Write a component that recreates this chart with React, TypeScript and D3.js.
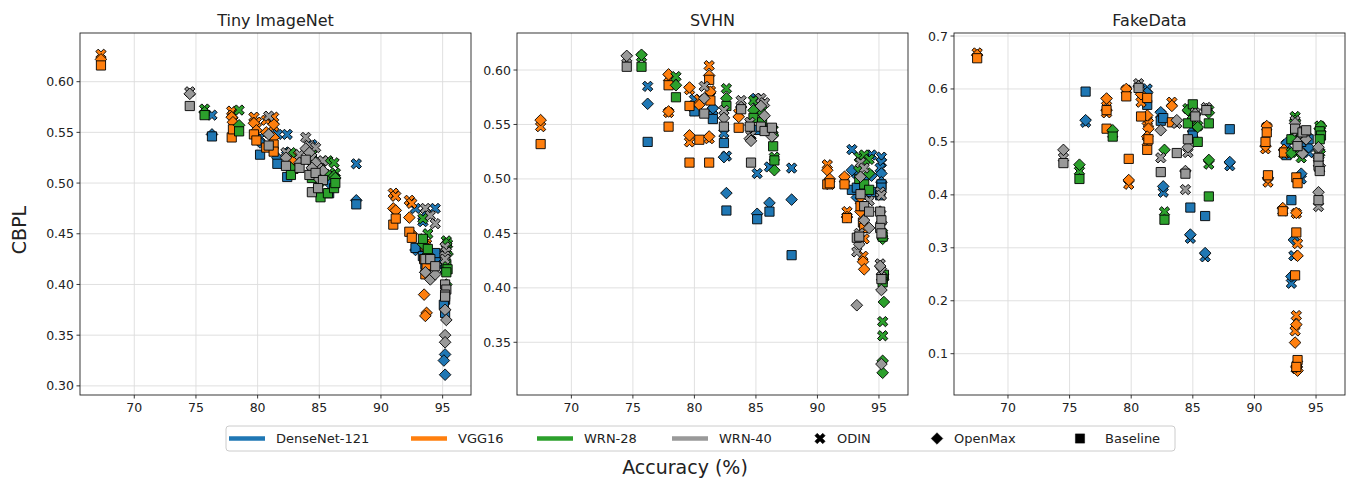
import * as d3 from 'd3'

// rows: [accuracy, ODIN, OpenMax, Baseline]
const models = ['DenseNet-121', 'VGG16', 'WRN-28', 'WRN-40']
const colors = ['#1f77b4', '#ff7f0e', '#2ca02c', '#999999']
const methods = ['ODIN', 'OpenMax', 'Baseline']
const xTicks = [70, 75, 80, 85, 90, 95]

const tinyDense = [
  [76.3, 0.567, 0.548, 0.546], [80.2, 0.545, 0.540, 0.528], [81.6, 0.548, 0.525, 0.519],
  [82.4, 0.548, 0.530, 0.506], [84.4, 0.538, 0.525, 0.512], [85.8, 0.505, 0.500, 0.490],
  [88.0, 0.519, 0.483, 0.479], [92.8, 0.475, 0.434, 0.436], [93.6, 0.470, 0.412, 0.420],
  [94.4, 0.475, 0.425, 0.431], [95.2, 0.430, 0.331, 0.385], [95.1, 0.420, 0.325, 0.380],
  [95.2, 0.415, 0.311, 0.372], [93.4, 0.462, 0.437, 0.428],
]
const tinyVgg = [
  [67.3, 0.627, 0.622, 0.616], [77.9, 0.571, 0.565, 0.545], [78.0, 0.567, 0.560, 0.553],
  [79.7, 0.565, 0.559, 0.548], [79.9, 0.560, 0.552, 0.542], [80.7, 0.562, 0.550, 0.535],
  [81.3, 0.565, 0.558, 0.538], [81.3, 0.556, 0.545, 0.531], [82.9, 0.528, 0.522, 0.514],
  [91.0, 0.490, 0.475, 0.459], [91.2, 0.487, 0.473, 0.465], [92.3, 0.483, 0.466, 0.452],
  [92.5, 0.480, 0.450, 0.446], [93.5, 0.445, 0.390, 0.425], [93.7, 0.440, 0.372, 0.418],
  [93.6, 0.438, 0.369, 0.410],
]
const tinyWrn28 = [
  [75.7, 0.573, 0.570, 0.567], [78.5, 0.572, 0.557, 0.551], [82.7, 0.530, 0.515, 0.508],
  [84.4, 0.528, 0.520, 0.505], [85.1, 0.513, 0.500, 0.486], [85.7, 0.522, 0.508, 0.490],
  [86.2, 0.520, 0.507, 0.495], [86.3, 0.510, 0.505, 0.500], [93.4, 0.465, 0.440, 0.445],
  [93.8, 0.450, 0.430, 0.435], [95.3, 0.443, 0.440, 0.420], [95.4, 0.440, 0.430, 0.415],
  [95.3, 0.435, 0.400, 0.412],
]
const tinyWrn40 = [
  [74.5, 0.590, 0.588, 0.576], [80.9, 0.566, 0.548, 0.537], [82.3, 0.530, 0.525, 0.517],
  [83.4, 0.528, 0.520, 0.515], [83.9, 0.545, 0.534, 0.523], [84.2, 0.537, 0.530, 0.508],
  [84.7, 0.535, 0.520, 0.510], [84.4, 0.525, 0.515, 0.491], [85.3, 0.522, 0.512, 0.503],
  [84.9, 0.515, 0.505, 0.495], [93.6, 0.475, 0.412, 0.425], [94.0, 0.468, 0.405, 0.425],
  [94.4, 0.460, 0.410, 0.418], [95.2, 0.437, 0.375, 0.400], [95.3, 0.432, 0.365, 0.395],
  [95.2, 0.428, 0.350, 0.390], [95.2, 0.425, 0.343, 0.388],
]

const svhnDense = [
  [76.2, 0.585, 0.569, 0.534], [80.0, 0.573, 0.563, 0.562], [81.5, 0.563, 0.565, 0.555],
  [82.4, 0.542, 0.520, 0.533], [82.6, 0.521, 0.487, 0.471], [85.0, 0.574, 0.572, 0.545],
  [85.1, 0.505, 0.468, 0.463], [86.1, 0.511, 0.478, 0.470], [87.9, 0.510, 0.481, 0.430],
  [92.8, 0.527, 0.508, 0.490], [93.2, 0.505, 0.483, 0.492], [93.8, 0.520, 0.500, 0.487],
  [94.4, 0.522, 0.503, 0.488], [95.2, 0.520, 0.505, 0.495], [95.2, 0.515, 0.497, 0.492],
  [95.1, 0.510, 0.490, 0.485],
]
const svhnVgg = [
  [67.5, 0.548, 0.554, 0.532], [77.9, 0.593, 0.596, 0.586], [77.9, 0.561, 0.562, 0.548],
  [79.6, 0.582, 0.584, 0.567], [79.6, 0.534, 0.540, 0.515], [80.4, 0.573, 0.568, 0.536],
  [81.2, 0.604, 0.595, 0.591], [81.3, 0.581, 0.580, 0.572], [81.2, 0.537, 0.539, 0.515],
  [83.6, 0.560, 0.557, 0.547], [90.8, 0.513, 0.508, 0.495], [91.0, 0.495, 0.500, 0.496],
  [92.2, 0.500, 0.502, 0.495], [92.4, 0.470, 0.465, 0.464], [93.5, 0.480, 0.470, 0.475],
  [93.7, 0.429, 0.424, 0.460], [93.8, 0.445, 0.417, 0.455],
]
const svhnWrn28 = [
  [75.7, 0.612, 0.614, 0.603], [78.5, 0.594, 0.586, 0.575], [82.6, 0.583, 0.574, 0.567],
  [84.8, 0.572, 0.563, 0.556], [85.5, 0.568, 0.560, 0.552], [86.4, 0.545, 0.540, 0.530],
  [86.5, 0.520, 0.508, 0.517], [93.4, 0.520, 0.510, 0.500], [93.8, 0.522, 0.515, 0.495],
  [94.2, 0.518, 0.505, 0.490], [95.3, 0.450, 0.445, 0.447], [95.4, 0.410, 0.387, 0.412],
  [95.3, 0.369, 0.333, 0.408], [95.3, 0.356, 0.322, 0.405],
]
const svhnWrn40 = [
  [74.5, 0.611, 0.613, 0.603], [80.8, 0.585, 0.574, 0.560], [82.4, 0.563, 0.556, 0.548],
  [83.8, 0.572, 0.566, 0.564], [84.5, 0.552, 0.537, 0.548], [84.6, 0.540, 0.535, 0.515],
  [85.4, 0.574, 0.567, 0.548], [85.7, 0.570, 0.558, 0.544], [86.3, 0.545, 0.539, 0.547],
  [93.5, 0.515, 0.502, 0.486], [93.8, 0.510, 0.462, 0.475], [94.2, 0.480, 0.455, 0.470],
  [93.2, 0.433, 0.384, 0.446], [93.4, 0.450, 0.440, 0.447], [95.1, 0.488, 0.470, 0.470],
  [95.2, 0.485, 0.460, 0.462], [95.1, 0.422, 0.420, 0.455], [95.2, 0.415, 0.398, 0.408],
  [95.2, 0.410, 0.330, 0.450],
]

const fakeDense = [
  [76.3, 0.537, 0.541, 0.595], [81.3, 0.600, 0.593, 0.570], [82.4, 0.552, 0.556, 0.540],
  [82.6, 0.405, 0.416, 0.545], [84.8, 0.318, 0.325, 0.376], [85.0, 0.505, 0.520, 0.512],
  [86.0, 0.283, 0.290, 0.360], [88.0, 0.455, 0.462, 0.524], [92.6, 0.495, 0.498, 0.475],
  [93.0, 0.233, 0.246, 0.390], [93.2, 0.285, 0.315, 0.505], [93.8, 0.430, 0.440, 0.500],
  [94.4, 0.480, 0.490, 0.505],
]
const fakeVgg = [
  [67.5, 0.668, 0.664, 0.658], [78.0, 0.578, 0.582, 0.560], [78.0, 0.555, 0.560, 0.525],
  [79.6, 0.598, 0.600, 0.586], [79.8, 0.420, 0.428, 0.468], [80.8, 0.575, 0.590, 0.548],
  [81.3, 0.540, 0.550, 0.583], [81.4, 0.535, 0.525, 0.505], [81.3, 0.500, 0.510, 0.485],
  [83.3, 0.575, 0.568, 0.537], [91.0, 0.528, 0.530, 0.518], [90.9, 0.487, 0.492, 0.500],
  [91.1, 0.424, 0.432, 0.437], [92.3, 0.370, 0.375, 0.369], [92.4, 0.478, 0.485, 0.480],
  [93.4, 0.365, 0.366, 0.433], [93.5, 0.308, 0.285, 0.422], [93.4, 0.172, 0.155, 0.329],
  [93.3, 0.143, 0.121, 0.248], [93.5, 0.080, 0.068, 0.088], [93.4, 0.072, 0.075, 0.075],
]
const fakeWrn28 = [
  [75.8, 0.445, 0.457, 0.430], [78.5, 0.515, 0.522, 0.510], [82.7, 0.368, 0.485, 0.353],
  [84.6, 0.563, 0.560, 0.535], [85.0, 0.555, 0.545, 0.571], [85.4, 0.530, 0.528, 0.500],
  [86.3, 0.458, 0.466, 0.397], [86.3, 0.560, 0.555, 0.535], [93.3, 0.548, 0.540, 0.520],
  [93.0, 0.480, 0.479, 0.505], [93.8, 0.470, 0.480, 0.510], [95.3, 0.530, 0.525, 0.520],
  [95.4, 0.525, 0.530, 0.512], [95.3, 0.480, 0.482, 0.505],
]
const fakeWrn40 = [
  [74.5, 0.470, 0.485, 0.460], [80.6, 0.610, 0.605, 0.602], [82.4, 0.470, 0.522, 0.443],
  [83.7, 0.535, 0.541, 0.479], [84.4, 0.410, 0.445, 0.440], [84.6, 0.480, 0.490, 0.505],
  [85.2, 0.555, 0.553, 0.548], [86.1, 0.565, 0.562, 0.560], [93.3, 0.540, 0.535, 0.525],
  [93.5, 0.520, 0.500, 0.492], [93.9, 0.515, 0.478, 0.518], [94.2, 0.510, 0.505, 0.522],
  [95.2, 0.480, 0.490, 0.470], [95.2, 0.460, 0.470, 0.455], [95.3, 0.450, 0.455, 0.445],
  [95.2, 0.378, 0.405, 0.390],
]

const panels = [
  { title: 'Tiny ImageNet', left: 80, xDomain: [65.6, 97.3], yDomain: [0.291, 0.648],
    yTicks: [0.30, 0.35, 0.40, 0.45, 0.50, 0.55, 0.60], fmt: '.2f',
    series: [tinyDense, tinyVgg, tinyWrn28, tinyWrn40] },
  { title: 'SVHN', left: 517, xDomain: [65.58, 97.36], yDomain: [0.3016, 0.634],
    yTicks: [0.35, 0.40, 0.45, 0.50, 0.55, 0.60], fmt: '.2f',
    series: [svhnDense, svhnVgg, svhnWrn28, svhnWrn40] },
  { title: 'FakeData', left: 954, xDomain: [65.62, 97.35], yDomain: [0.022, 0.7057],
    yTicks: [0.1, 0.2, 0.3, 0.4, 0.5, 0.6, 0.7], fmt: '.1f',
    series: [fakeDense, fakeVgg, fakeWrn28, fakeWrn40] },
]

const W = 391
const TOP = 33
const BOTTOM = 395
const FONT = 'DejaVu Sans, sans-serif'

// filled "X" marker, like matplotlib's 'X'
const a = 5.6
const t = 1.7
const xPath = `M${t},${a}L${t},${t}L${a},${t}L${a},${-t}L${t},${-t}L${t},${-a}L${-t},${-a}L${-t},${-t}L${-a},${-t}L${-a},${t}L${-t},${t}L${-t},${a}Z`
const dPath = 'M0,-5.8L5.8,0L0,5.8L-5.8,0Z'
const sPath = 'M-4.6,-4.6L4.6,-4.6L4.6,4.6L-4.6,4.6Z'

const Marker = ({ m, x, y, fill, stroke = '#000', sw = 0.9 }) => {
  if (m === 0) return <path d={xPath} transform={`translate(${x},${y}) rotate(45)`} fill={fill} stroke={stroke} strokeWidth={sw} />
  if (m === 1) return <path d={dPath} transform={`translate(${x},${y})`} fill={fill} stroke={stroke} strokeWidth={sw} />
  return <path d={sPath} transform={`translate(${x},${y})`} fill={fill} stroke={stroke} strokeWidth={sw} />
}

const Panel = ({ p }) => {
  const x = d3.scaleLinear().domain(p.xDomain).range([p.left, p.left + W])
  const y = d3.scaleLinear().domain(p.yDomain).range([BOTTOM, TOP])
  const f = d3.format(p.fmt)
  return (
    <g>
      {xTicks.map(v => (
        <line key={'gx' + v} x1={x(v)} x2={x(v)} y1={TOP} y2={BOTTOM} stroke="#dcdcdc" strokeWidth={0.9} />
      ))}
      {p.yTicks.map(v => (
        <line key={'gy' + v} x1={p.left} x2={p.left + W} y1={y(v)} y2={y(v)} stroke="#dcdcdc" strokeWidth={0.9} />
      ))}
      {p.series.map((rows, mi) =>
        [0, 1, 2].map(k =>
          rows.map((r, i) => (
            <Marker key={`${mi}-${k}-${i}`} m={k} x={x(r[0])} y={y(r[k + 1])} fill={colors[mi]} />
          ))
        )
      )}
      <rect x={p.left} y={TOP} width={W} height={BOTTOM - TOP} fill="none" stroke="#222" strokeWidth={0.9} />
      {xTicks.map(v => (
        <g key={'tx' + v}>
          <line x1={x(v)} x2={x(v)} y1={BOTTOM} y2={BOTTOM + 3.5} stroke="#222" strokeWidth={0.9} />
          <text x={x(v)} y={BOTTOM + 17} textAnchor="middle" fontSize={12.5} fontFamily={FONT} fill="#222">{v}</text>
        </g>
      ))}
      {p.yTicks.map(v => (
        <g key={'ty' + v}>
          <line x1={p.left - 3.5} x2={p.left} y1={y(v)} y2={y(v)} stroke="#222" strokeWidth={0.9} />
          <text x={p.left - 6} y={y(v) + 4.5} textAnchor="end" fontSize={12.5} fontFamily={FONT} fill="#222">{f(v)}</text>
        </g>
      ))}
      <text x={p.left + W / 2} y={TOP - 7} textAnchor="middle" fontSize={16} fontFamily={FONT} fill="#222">{p.title}</text>
    </g>
  )
}

const legendModels = [229, 411, 537, 672]
const legendMethods = [820, 937, 1080]

const App = () => {
  return (
    <svg width={1351} height={481} style={{ position: 'absolute', left: 0, top: 0, display: 'block', background: '#fff' }}>
      <rect width={1351} height={481} fill="#fff" />
      {panels.map(p => <Panel key={p.title} p={p} />)}
      <text transform="translate(26,230) rotate(-90)" textAnchor="middle" fontSize={19} fontFamily={FONT} fill="#222">CBPL</text>
      <text x={685} y={474} textAnchor="middle" fontSize={19} fontFamily={FONT} fill="#222">Accuracy (%)</text>
      <rect x={226} y={426} width={949} height={25} rx={3} fill="#fff" stroke="#cccccc" strokeWidth={1} />
      {models.map((m, i) => (
        <g key={m}>
          <line x1={legendModels[i]} x2={legendModels[i] + 36} y1={438.5} y2={438.5} stroke={colors[i]} strokeWidth={4.5} />
          <text x={legendModels[i] + 47} y={443} fontSize={13} fontFamily={FONT} fill="#222">{m}</text>
        </g>
      ))}
      {methods.map((m, i) => (
        <g key={m}>
          <Marker m={i} x={legendMethods[i]} y={438.5} fill="#000" sw={0.5} />
          <text x={legendMethods[i] + (i === 2 ? 25 : 17)} y={443} fontSize={13} fontFamily={FONT} fill="#222">{m}</text>
        </g>
      ))}
    </svg>
  )
}

export default App
